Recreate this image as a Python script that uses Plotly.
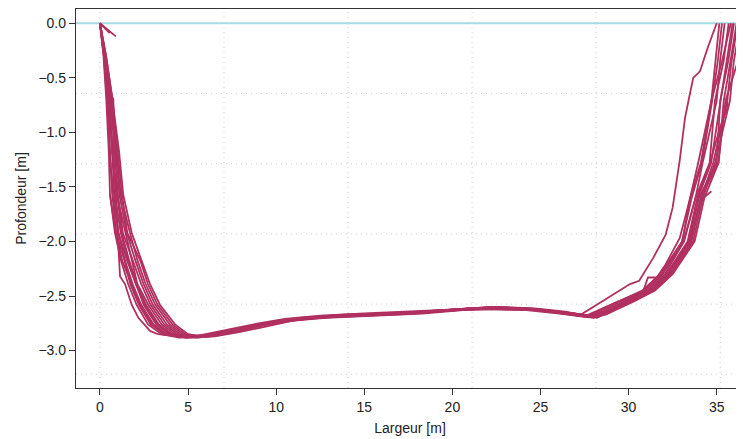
import plotly.graph_objects as go

# ---- data: cross-section profiles (x = largeur [m], y = profondeur [m]) ----
c01 = [(0.9,-0.12),(0,0),(0.22,-0.3),(0.4,-0.7),(0.55,-1.17),(0.7,-1.57),(0.92,-1.92),(1.4,-2.18),(1.72,-2.39),(2.21,-2.58),(2.88,-2.76),(3.65,-2.85),(4.6,-2.87),(6.0,-2.86),(7.5,-2.81),(9.0,-2.76),(10.5,-2.72),(12.5,-2.69),(15.0,-2.67),(18.0,-2.65),(20.5,-2.62),(22.5,-2.61),(24.5,-2.62),(26.5,-2.65),(27.8,-2.68),(28.6,-2.61),(29.4,-2.55),(30.78,-2.45),(31.78,-2.3),(33.05,-2.0),(33.49,-1.6),(33.95,-1.28),(34.7,-0.71),(34.93,-0.35),(35.15,0)]
c02 = [(0.55,-0.09),(0,0),(0.25,-0.3),(0.51,-0.7),(0.7,-1.17),(0.8,-1.57),(1.05,-1.92),(1.55,-2.18),(2.05,-2.39),(2.48,-2.58),(3.19,-2.76),(3.95,-2.85),(4.9,-2.88),(6.2,-2.87),(7.6,-2.83),(9.2,-2.77),(10.8,-2.72),(12.6,-2.69),(15.2,-2.67),(18.2,-2.65),(20.4,-2.63),(22.3,-2.61),(24.6,-2.63),(26.4,-2.66),(27.6,-2.69),(28.6,-2.62),(29.6,-2.55),(30.94,-2.45),(31.94,-2.3),(33.12,-2.0),(33.8,-1.6),(34.2,-1.28),(35.0,-0.71),(35.19,-0.35),(35.45,0)]
c03 = [(0,0),(0.28,-0.3),(0.58,-0.7),(0.68,-1.17),(0.95,-1.57),(1.45,-1.92),(1.79,-2.18),(2.12,-2.39),(2.74,-2.58),(3.5,-2.76),(4.25,-2.85),(5.2,-2.88),(6.4,-2.86),(7.8,-2.82),(9.3,-2.76),(11.0,-2.71),(13.0,-2.68),(15.5,-2.67),(18.5,-2.64),(20.8,-2.62),(22.6,-2.6),(24.8,-2.62),(26.6,-2.66),(27.9,-2.69),(28.6,-2.64),(29.75,-2.55),(31.06,-2.45),(32.06,-2.3),(33.15,-2.0),(33.8,-1.6),(34.6,-1.28),(34.9,-0.71),(35.39,-0.35),(35.68,0)]
c04 = [(0,0),(0.32,-0.3),(0.68,-0.7),(0.95,-1.17),(1.17,-1.57),(1.7,-1.92),(2.14,-2.18),(2.59,-2.39),(3.14,-2.58),(3.96,-2.76),(4.7,-2.85),(5.6,-2.87),(6.6,-2.85),(8.0,-2.8),(9.6,-2.74),(11.2,-2.7),(13.4,-2.68),(16.0,-2.66),(18.8,-2.64),(21.0,-2.61),(22.8,-2.61),(25.0,-2.63),(26.8,-2.67),(28.0,-2.7),(28.7,-2.66),(30.1,-2.55),(31.34,-2.45),(32.34,-2.3),(33.57,-2.0),(34.12,-1.6),(34.8,-1.28),(35.6,-0.71),(35.84,-0.35),(36.2,0)]
c05 = [(0,0),(0.23,-0.3),(0.47,-0.7),(0.57,-1.17),(0.72,-1.57),(1.04,-1.92),(1.43,-2.18),(1.85,-2.39),(2.34,-2.58),(3.04,-2.76),(3.8,-2.85),(4.8,-2.88),(6.1,-2.87),(7.4,-2.82),(8.9,-2.77),(10.4,-2.73),(12.3,-2.7),(14.8,-2.68),(17.8,-2.66),(20.2,-2.63),(22.2,-2.61),(24.3,-2.62),(26.2,-2.65),(27.6,-2.68),(28.6,-2.61),(29.4,-2.55),(30.8,-2.47),(31.1,-2.33),(31.6,-2.33),(32.1,-2.21),(32.9,-1.97),(33.5,-1.6),(34.1,-1.28),(34.7,-0.71),(35.3,-0.35),(35.8,0)]
c06 = [(0,0),(0.34,-0.3),(0.72,-0.7),(1.02,-1.17),(1.25,-1.57),(1.55,-1.92),(2.3,-2.18),(2.72,-2.39),(3.27,-2.58),(4.11,-2.76),(4.85,-2.85),(5.7,-2.87),(6.8,-2.85),(8.2,-2.8),(9.8,-2.74),(11.5,-2.7),(13.8,-2.67),(16.5,-2.66),(19.2,-2.63),(21.3,-2.61),(23.2,-2.61),(25.3,-2.63),(27.0,-2.67),(28.1,-2.69),(28.7,-2.65),(29.95,-2.55),(31.22,-2.45),(32.22,-2.3),(33.44,-2.0),(33.99,-1.6),(35.0,-1.28),(35.2,-0.71),(35.65,-0.35),(35.98,0)]
c07 = [(0,0),(0.28,-0.3),(0.5,-0.7),(0.7,-1.17),(0.9,-1.57),(1.0,-1.92),(1.1,-2.18),(1.14,-2.32),(1.42,-2.39),(1.8,-2.58),(2.18,-2.7),(2.84,-2.82),(3.3,-2.85),(4.26,-2.87),(5.0,-2.88),(6.0,-2.85),(7.5,-2.8),(9.0,-2.75),(10.5,-2.71),(12.5,-2.68),(15.0,-2.66),(18.0,-2.64),(20.5,-2.62),(22.5,-2.6),(24.5,-2.61),(26.3,-2.64),(27.3,-2.67),(28.4,-2.56),(29.2,-2.48),(30.08,-2.39),(30.6,-2.36),(31.4,-2.15),(32.1,-1.94),(32.5,-1.69),(32.9,-1.26),(33.2,-0.87),(33.4,-0.71),(33.67,-0.5),(34.05,-0.44),(34.5,-0.22),(35.0,0)]
c08 = [(0,0),(0.26,-0.3),(0.54,-0.7),(0.7,-1.17),(0.98,-1.57),(1.23,-1.92),(1.67,-2.18),(2.1,-2.39),(2.61,-2.58),(3.34,-2.76),(4.1,-2.85),(5.1,-2.87),(6.3,-2.86),(7.7,-2.82),(9.1,-2.77),(10.7,-2.73),(12.8,-2.7),(15.3,-2.68),(18.3,-2.66),(20.6,-2.63),(22.4,-2.62),(24.7,-2.63),(26.6,-2.67),(27.7,-2.69),(28.6,-2.66),(30.2,-2.55),(31.42,-2.45),(32.42,-2.3),(33.66,-2.0),(34.21,-1.6),(34.9,-1.28),(35.75,-0.71),(35.97,-0.35),(36.35,0)]
c09 = [(0,0),(0.29,-0.3),(0.61,-0.7),(0.82,-1.17),(1.02,-1.57),(1.3,-1.92),(1.9,-2.18),(2.34,-2.39),(2.87,-2.58),(3.65,-2.76),(4.4,-2.85),(5.4,-2.88),(6.5,-2.87),(7.9,-2.83),(9.4,-2.78),(11.1,-2.72),(13.2,-2.69),(15.8,-2.67),(18.6,-2.65),(20.9,-2.62),(22.7,-2.61),(24.9,-2.62),(26.7,-2.66),(27.9,-2.68),(28.7,-2.67),(30.3,-2.55),(31.5,-2.45),(32.5,-2.3),(33.75,-2.0),(34.3,-1.6),(35.1,-1.28),(35.5,-0.71),(36.2,-0.35),(36.5,-0.05),(36.9,0)]
c10 = [(0,0),(0.2,-0.3),(0.36,-0.7),(0.5,-1.17),(0.57,-1.57),(0.85,-1.92),(1.2,-2.18),(1.6,-2.39),(2.08,-2.58),(2.73,-2.76),(3.5,-2.85),(4.5,-2.88),(5.9,-2.87),(7.3,-2.83),(8.8,-2.78),(10.3,-2.74),(12.2,-2.7),(14.6,-2.68),(17.6,-2.66),(20.1,-2.63),(22.1,-2.62),(24.2,-2.63),(26.1,-2.66),(27.5,-2.69),(28.6,-2.64),(29.85,-2.55),(31.14,-2.45),(32.14,-2.3),(33.35,-2.0),(33.9,-1.6),(34.62,-1.28),(35.2,-0.95),(35.6,-0.78),(35.6,-0.68)]
c11 = [(0,0),(0.31,-0.3),(0.65,-0.7),(0.89,-1.17),(1.1,-1.57),(1.52,-1.92),(2.02,-2.18),(2.47,-2.39),(3.0,-2.58),(3.8,-2.76),(4.55,-2.85),(5.5,-2.88),(6.7,-2.86),(8.1,-2.81),(9.7,-2.75),(11.4,-2.71),(13.6,-2.68),(16.2,-2.67),(19.0,-2.64),(21.2,-2.62),(23.0,-2.61),(25.1,-2.63),(26.9,-2.67),(28.2,-2.7),(28.7,-2.65),(30.0,-2.55),(31.26,-2.45),(32.26,-2.3),(33.48,-2.0),(34.1,-1.62),(34.7,-1.54)]
c12 = [(0,0),(0.26,-0.3),(0.5,-0.6),(0.76,-0.7),(0.8,-1.35),(0.72,-1.45),(0.85,-1.57),(1.18,-1.92),(1.6,-2.18),(2.03,-2.39),(2.55,-2.58),(3.27,-2.76),(4.0,-2.85),(4.9,-2.87),(6.1,-2.86),(7.6,-2.81),(9.1,-2.76),(10.6,-2.72),(12.6,-2.69),(15.1,-2.67),(18.1,-2.65),(20.5,-2.62),(22.4,-2.6),(24.5,-2.62),(26.4,-2.65),(27.7,-2.68),(28.6,-2.62),(29.5,-2.55),(30.86,-2.45),(31.86,-2.3),(33.03,-2.0),(33.58,-1.6),(34.16,-1.28),(34.74,-0.71),(35.06,-0.35),(35.3,0)]
c13 = [(0,0),(0.35,-0.3),(0.7,-0.7),(1.08,-1.17),(1.32,-1.57),(1.8,-1.92),(2.37,-2.18),(2.84,-2.39),(3.4,-2.58),(4.26,-2.76),(5.0,-2.85),(5.8,-2.87),(6.9,-2.85),(8.3,-2.79),(9.9,-2.74),(11.6,-2.7),(14.0,-2.67),(16.8,-2.66),(19.4,-2.63),(21.5,-2.61),(23.4,-2.61),(25.5,-2.64),(27.1,-2.68),(28.3,-2.69),(28.8,-2.66),(30.05,-2.55),(31.3,-2.45),(32.3,-2.3),(33.53,-2.0),(34.08,-1.6),(35.1,-1.28),(35.4,-0.71),(35.78,-0.35),(36.13,0)]
c14 = [(0.57,-1.57),(0.9,-1.92),(1.27,-2.18),(1.78,-2.39),(2.27,-2.58),(2.96,-2.76),(3.72,-2.85),(4.7,-2.87),(6.0,-2.86),(7.4,-2.82),(8.9,-2.77),(10.4,-2.72),(12.4,-2.69),(14.9,-2.67),(17.9,-2.65),(20.3,-2.62),(22.2,-2.6),(24.4,-2.62),(26.3,-2.65),(27.6,-2.68),(28.6,-2.65),(29.9,-2.55),(31.18,-2.45),(32.18,-2.3),(33.39,-2.0),(33.94,-1.6),(34.68,-1.28),(35.22,-0.71),(35.58,-0.35),(35.9,0)]

profiles = [c01, c02, c03, c04, c05, c06, c07, c08, c09, c10, c11, c12, c13, c14]

water_level = 0.0
x_ticks = [0, 5, 10, 15, 20, 25, 30, 35]
y_ticks = [0.0, -0.5, -1.0, -1.5, -2.0, -2.5, -3.0]
grid_x = [0, 7.04, 14.08, 21.12, 28.16, 35.2]
grid_y = [0, -0.643, -1.287, -1.930, -2.574, -3.217]

LINE_COLOR = "#B03060"
FONT = "Liberation Sans, Arial, Helvetica, sans-serif"

fig = go.Figure()
for prof in profiles:
    xs = [p[0] for p in prof]
    ys = [p[1] for p in prof]
    fig.add_trace(go.Scatter(x=xs, y=ys, mode="lines",
                             line=dict(color=LINE_COLOR, width=1.8),
                             hoverinfo="skip", showlegend=False))

GRID = dict(color="#cfcfcf", width=1, dash="1px,4px")
shapes = []
for gx in grid_x:
    shapes.append(dict(type="line", xref="x", yref="paper", x0=gx, x1=gx, y0=0, y1=1,
                       line=GRID, layer="below"))
for gy in grid_y:
    shapes.append(dict(type="line", xref="paper", yref="y", x0=0, x1=1, y0=gy, y1=gy,
                       line=GRID, layer="below"))
shapes.append(dict(type="line", xref="paper", yref="y", x0=0, x1=1, y0=water_level, y1=water_level,
                   line=dict(color="#A6DCE6", width=2), layer="below"))

# page body has an 8px default margin; compensate so the plot area sits at the reference position
fig.update_layout(
    width=736, height=431,
    margin=dict(l=68, r=0, t=1, b=51, autoexpand=False),
    paper_bgcolor="white", plot_bgcolor="white",
    font=dict(family=FONT, size=14, color="#222"),
    shapes=shapes,
    xaxis=dict(range=[-1.36, 36.55], tickvals=x_ticks, ticks="outside", ticklen=6,
               tickcolor="#333", tickwidth=1.2, showline=True, linecolor="#333", linewidth=1.3,
               mirror=True, showgrid=False, zeroline=False, automargin=False,
               tickfont=dict(size=14),
               title=dict(text="Largeur [m]", font=dict(size=14), standoff=9)),
    yaxis=dict(range=[-3.343, 0.131], tickvals=y_ticks, tickformat=".1f", ticks="outside", ticklen=6,
               tickcolor="#333", tickwidth=1.2, showline=True, linecolor="#333", linewidth=1.3,
               showgrid=False, zeroline=False, automargin=False,
               tickfont=dict(size=14),
               title=dict(text="Profondeur [m]", font=dict(size=14), standoff=8)),
)

fig.write_html("out.html")
